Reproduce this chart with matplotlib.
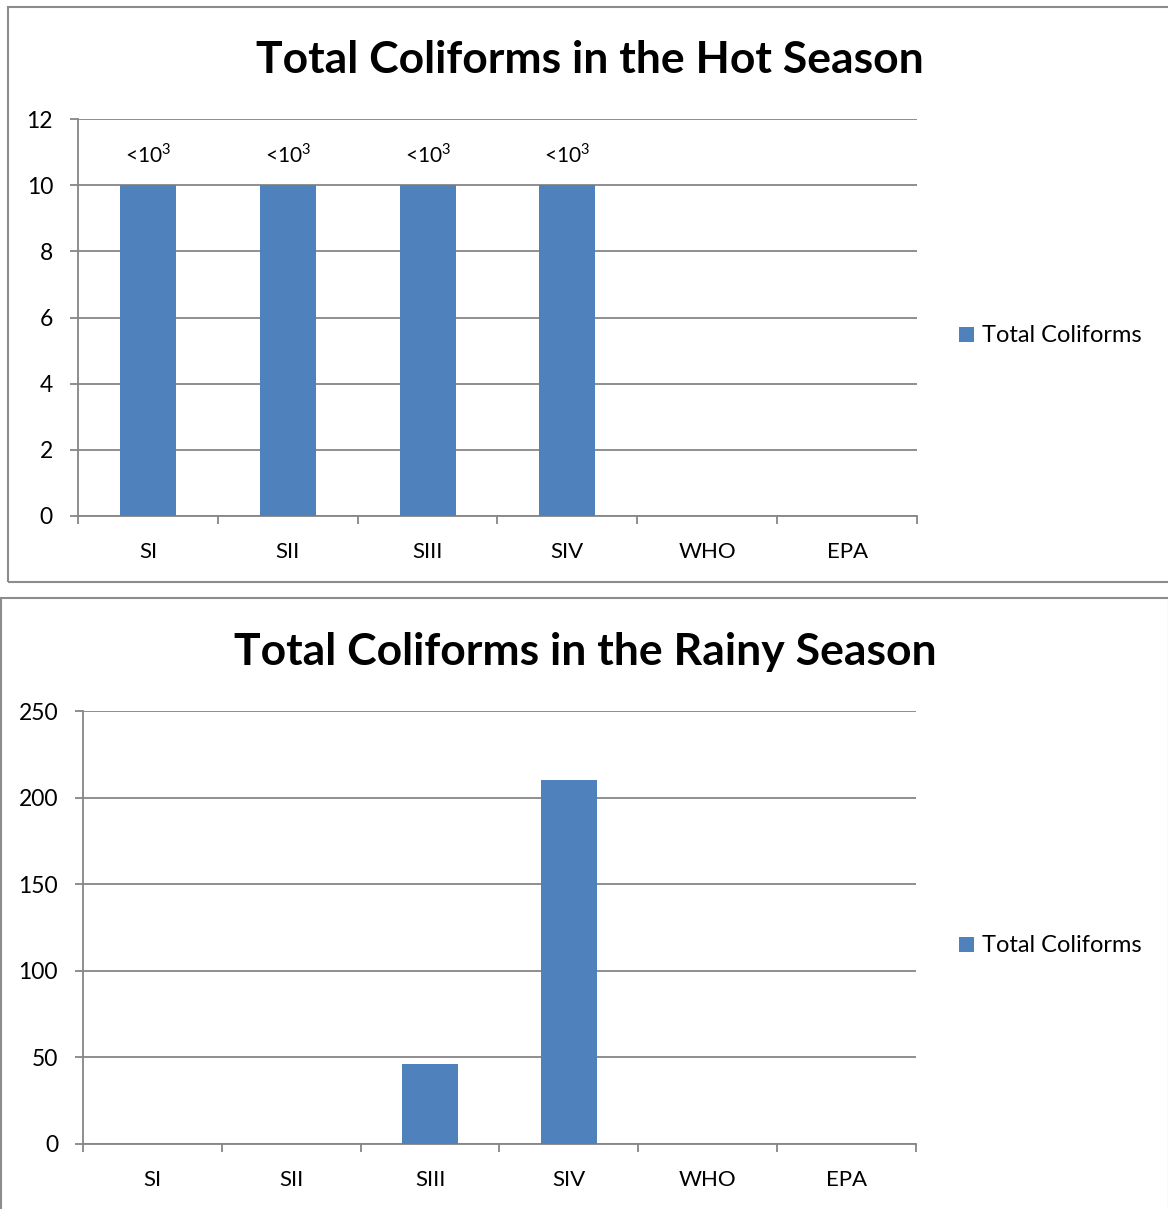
import matplotlib.pyplot as plt
import matplotlib.patches as patches
from matplotlib.patches import Patch

plt.rcParams["font.family"] = ["Lato", "DejaVu Sans"]
plt.rcParams["mathtext.fontset"] = "custom"
plt.rcParams["mathtext.rm"] = "Lato"

categories = ["SI", "SII", "SIII", "SIV", "WHO", "EPA"]
hot_values = [10, 10, 10, 10, 0, 0]
hot_labels = ["<10$^\\mathrm{3}$"] * 4 + ["", ""]
rainy_values = [0, 0, 46, 210, 0, 0]

hot_ticks = [0, 2, 4, 6, 8, 10, 12]
rainy_ticks = [0, 50, 100, 150, 200, 250]

BAR = "#4F81BD"
GRID = "#868686"
W, H = 1168, 1209


def px_axes(fig, x0, y0, x1, y1):
    return fig.add_axes([x0 / W, 1 - y1 / H, (x1 - x0) / W, (y1 - y0) / H])


def draw_chart(ax, values, yticks, labels=None):
    x = list(range(len(categories)))
    ax.bar(x, values, width=0.4, color=BAR, zorder=3)
    ax.set_xlim(-0.5, len(categories) - 0.5)
    ax.set_ylim(yticks[0], yticks[-1])
    ax.set_yticks(yticks)
    ax.yaxis.grid(True, color=GRID, linewidth=1.3, zorder=0)
    ax.set_xticks([i - 0.5 for i in range(len(categories) + 1)])
    ax.set_xticklabels([])
    ax.set_xticks(x, minor=True)
    ax.set_xticklabels(categories, minor=True)
    ax.tick_params(axis="x", which="major", direction="out", length=6,
                   color=GRID, width=1.3)
    ax.tick_params(axis="x", which="minor", length=0, pad=19, labelsize=16)
    ax.tick_params(axis="y", direction="out", length=6, color=GRID,
                   width=1.3, labelsize=16.5, pad=12)
    for s in ["top", "right"]:
        ax.spines[s].set_visible(False)
    for s in ["left", "bottom"]:
        ax.spines[s].set_color(GRID)
        ax.spines[s].set_linewidth(1.3)
    if labels:
        for i, (v, lab) in enumerate(zip(values, labels)):
            if lab:
                ax.text(i, v + 0.55, lab, ha="center", va="bottom", fontsize=15)


fig = plt.figure(figsize=(W / 100, H / 100), dpi=100)

# chart frames
fig.patches.append(patches.Rectangle((8 / W, 1 - 582 / H), 1.0, 575 / H,
                                     transform=fig.transFigure, fill=False,
                                     edgecolor="#8c8c8c", linewidth=1.5))
fig.patches.append(patches.Rectangle((1 / W, -0.01), 1.0, 1 - 598 / H + 0.01,
                                     transform=fig.transFigure, fill=False,
                                     edgecolor="#8c8c8c", linewidth=1.5))

ax1 = px_axes(fig, 78, 119, 917, 516)
draw_chart(ax1, hot_values, hot_ticks, hot_labels)
fig.text(590 / W, 1 - 60 / H, "Total Coliforms in the Hot Season",
         ha="center", va="center", fontsize=32, fontweight="bold")

ax2 = px_axes(fig, 83, 711, 916, 1144)
draw_chart(ax2, rainy_values, rainy_ticks)
fig.text(585 / W, 1 - 652 / H, "Total Coliforms in the Rainy Season",
         ha="center", va="center", fontsize=32, fontweight="bold")

handle = [Patch(facecolor=BAR, label="Total Coliforms")]
for ycen in (336, 946):
    fig.legend(handles=handle, loc="center left",
               bbox_to_anchor=(950 / W, 1 - ycen / H), frameon=False,
               fontsize=17, handlelength=0.6, handleheight=0.6,
               handletextpad=0.35, borderaxespad=0)

fig.savefig("out.png", dpi=100)
